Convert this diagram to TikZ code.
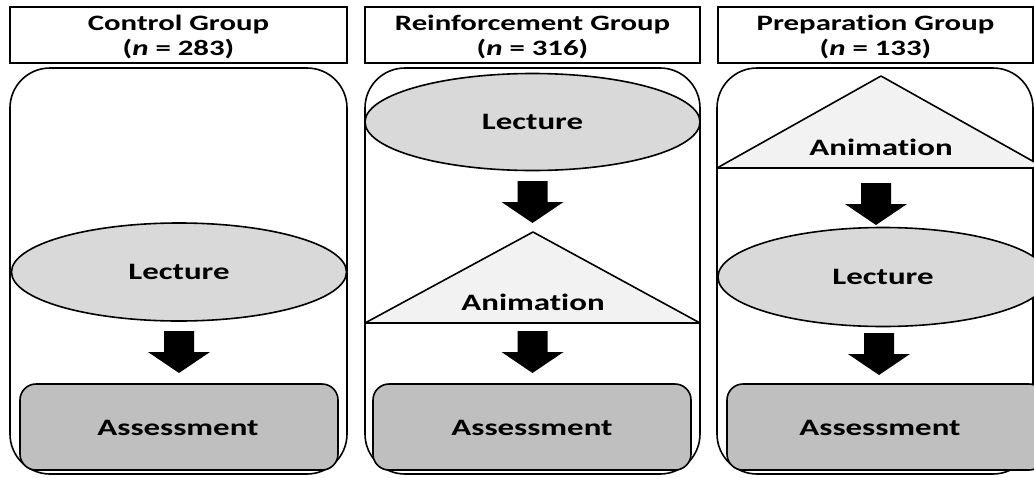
\documentclass[tikz,border=0pt]{standalone}
\usepackage{fontspec}
\setmainfont{Carlito}[FakeStretch=1.4,Ligatures=NoCommon]
\usetikzlibrary{shapes.geometric}
\definecolor{lecfill}{HTML}{D9D9D9}
\definecolor{animfill}{HTML}{F2F2F2}
\definecolor{assfill}{HTML}{BFBFBF}
\begin{document}
\begin{tikzpicture}[x=1pt,y=-1pt,
  every node/.style={font=\fontsize{23.5}{24}\selectfont\bfseries},
  outline/.style={draw=black,line width=1.6pt},
  header/.style={outline,rectangle,minimum height=56,inner sep=0pt,align=center,
    font=\fontsize{22}{25}\selectfont\bfseries},
  container/.style={outline,fill=white,rounded corners=40pt},
  lecture/.style={outline,ellipse,fill=lecfill,inner sep=0pt},
  anim/.style={outline,fill=animfill,line join=round},
  assess/.style={outline,fill=assfill,rounded corners=16pt},
  lbl/.style={inner sep=0pt},
  blockarrow/.pic={\fill[black] (-15,0) -- (15,0) -- (15,21) -- (31,21) -- (0,42) -- (-31,21) -- (-15,21) -- cycle;}
]
\useasboundingbox (0,0) rectangle (1034,477);
% headers
\draw[outline] (10,7) rectangle (347,63);
\draw[outline] (365,7) rectangle (700,63);
\draw[outline] (718,7) rectangle (1033,63);
\node[lbl,align=center,font=\fontsize{22}{24.5}\selectfont\bfseries] (h1) at (178.5,37) {Control Group\\(\textit{n} = 283)};
\node[lbl,align=center,font=\fontsize{22}{24.5}\selectfont\bfseries] (h2) at (532.5,37) {Reinforcement Group\\(\textit{n} = 316)};
\node[lbl,align=center,font=\fontsize{22}{24.5}\selectfont\bfseries] (h3) at (875.5,37) {Preparation Group\\(\textit{n} = 133)};
% containers
\draw[container] (10,68) rectangle (347,474);
\draw[container] (365,68) rectangle (700,474);
\draw[container] (717,68) rectangle (1033,474);
% control group
\node[lecture,minimum width=335,minimum height=98] (c1) at (179,272) {Lecture};
\pic at (179,331) {blockarrow};
\draw[assess] (20,384) rectangle (338,470);
\node[lbl] (c2) at (178,428) {Assessment};
% reinforcement group
\node[lecture,minimum width=335,minimum height=97] (r1) at (532.5,122) {Lecture};
\pic at (532.5,181) {blockarrow};
\draw[anim] (365,323) -- (533,232) -- (700,323) -- cycle;
\node[lbl] (r2) at (533,302) {Animation};
\pic at (532.5,331) {blockarrow};
\draw[assess] (373,384) rectangle (691,470);
\node[lbl] (r3) at (532,428) {Assessment};
% preparation group
\draw[anim] (717,168) -- (881,76) -- (1045,168) -- cycle;
\node[lbl] (p1) at (881,147) {Animation};
\pic at (876,183) {blockarrow};
\node[lecture,minimum width=330,minimum height=99] (p2) at (883,277) {Lecture};
\pic at (879,333) {blockarrow};
\draw[assess] (727,384) rectangle (1045,470);
\node[lbl] (p3) at (880,428) {Assessment};
\end{tikzpicture}
\end{document}
